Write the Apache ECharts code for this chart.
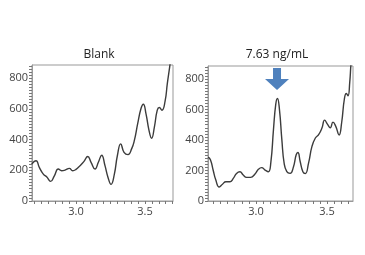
<!DOCTYPE html>
<html><head><meta charset="utf-8">
<script src="https://cdn.jsdelivr.net/npm/echarts@6/dist/echarts.min.js"></script>
<style>html,body{margin:0;padding:0;background:#fff}#c{width:365px;height:255px}</style>
</head><body><div id="c"></div>
<script>
const titles = ['Blank', '7.63 ng/mL'];
const blankX = [2.679,2.71,2.734,2.763,2.787,2.816,2.843,2.872,2.896,2.92,2.952,2.976,3.0,3.029,3.058,3.085,3.109,3.138,3.162,3.186,3.21,3.232,3.254,3.278,3.30,3.324,3.348,3.377,3.403,3.423,3.447,3.471,3.488,3.507,3.529,3.548,3.568,3.589,3.604,3.623,3.645,3.662,3.681,3.69];
const blankY = [241,262,219,175,158,128,164,208,197,201,212,197,206,230,258,290,252,208,252,298,230,153,108,175,296,372,317,302,339,394,503,602,630,569,460,408,481,591,608,591,646,766,886,950];
const spikeX = [2.663,2.679,2.698,2.717,2.741,2.764,2.788,2.816,2.84,2.863,2.887,2.91,2.934,2.962,2.993,3.017,3.04,3.064,3.087,3.104,3.123,3.139,3.151,3.165,3.182,3.198,3.217,3.24,3.264,3.283,3.295,3.311,3.33,3.347,3.37,3.394,3.418,3.441,3.465,3.483,3.504,3.523,3.542,3.561,3.585,3.603,3.622,3.636,3.648,3.66,3.669,3.68];
const spikeY = [287,270,203,137,92,110,126,126,148,181,192,170,155,155,177,208,219,203,192,248,468,634,672,601,402,248,192,181,225,303,318,259,192,180,248,358,413,435,480,530,502,480,517,491,433,513,667,705,690,778,900,1000];
const xLabels = [3.0, 3.5];
const yLabels = [0, 200, 400, 600, 800];
const xTicks = []; for (let i = 54; i <= 74; i++) xTicks.push(+(i * 0.05).toFixed(2));
const yTicks = []; for (let v = 0; v <= 880; v += 20) yTicks.push(v);
const arrowAt = [3.148, 800];

const font = '"Open Sans", "Noto Sans", sans-serif';
const grids = [
  {left: 32, top: 65, width: 141, height: 136},
  {left: 208, top: 66, width: 145, height: 135}
];
const xr = [[2.681, 3.703], [2.662, 3.683]];
function xAxis(i){
  return {type:'value', gridIndex:i, min:xr[i][0], max:xr[i][1],
    axisLine:{show:true, lineStyle:{color:'#999', width:1}},
    axisTick:{show:true, customValues:xTicks, length:3, lineStyle:{color:'#777'}},
    axisLabel:{customValues:xLabels, formatter:v=>v.toFixed(1), color:'#444', fontSize:11, fontFamily:font, margin:5},
    splitLine:{show:false}};
}
function yAxis(i){
  return {type:'value', gridIndex:i, min:0, max:885,
    axisLine:{show:true, lineStyle:{color:'#999', width:1}},
    axisTick:{show:true, customValues:yTicks, length:3, lineStyle:{color:'#777'}},
    axisLabel:{customValues:yLabels, color:'#444', fontSize:11, fontFamily:font, margin:4},
    splitLine:{show:false}};
}
const chart = echarts.init(document.getElementById('c'), null, {renderer:'canvas'});
chart.setOption({
  animation:false,
  title:[
    {text:titles[0], left:94, top:44, textAlign:'center', textStyle:{fontSize:12, fontWeight:'normal', color:'#222', fontFamily:font}},
    {text:titles[1], left:272, top:44, textAlign:'center', textStyle:{fontSize:12, fontWeight:'normal', color:'#222', fontFamily:font}}
  ],
  grid: grids.map(g=>Object.assign({show:true, borderColor:'#999', borderWidth:1, backgroundColor:'#fff'}, g)),
  xAxis:[xAxis(0), xAxis(1)],
  yAxis:[yAxis(0), yAxis(1)],
  series:[
    {type:'line', xAxisIndex:0, yAxisIndex:0, smooth:0.5, symbol:'none', clip:true,
     lineStyle:{color:'#3c3c3c', width:1.4}, data:blankX.map((x,k)=>[x, blankY[k]])},
    {type:'line', xAxisIndex:1, yAxisIndex:1, smooth:0.5, symbol:'none', clip:true,
     lineStyle:{color:'#3c3c3c', width:1.4}, data:spikeX.map((x,k)=>[x, spikeY[k]]),
     markPoint:{silent:true, data:[{coord:arrowAt}],
       symbol:'path://M8,0 L16,0 L16,11 L24,11 L12,22 L0,11 L8,11 Z', symbolSize:[24,22],
       itemStyle:{color:'#4f81bd'}, label:{show:false}}}
  ]
});
</script></body></html>
